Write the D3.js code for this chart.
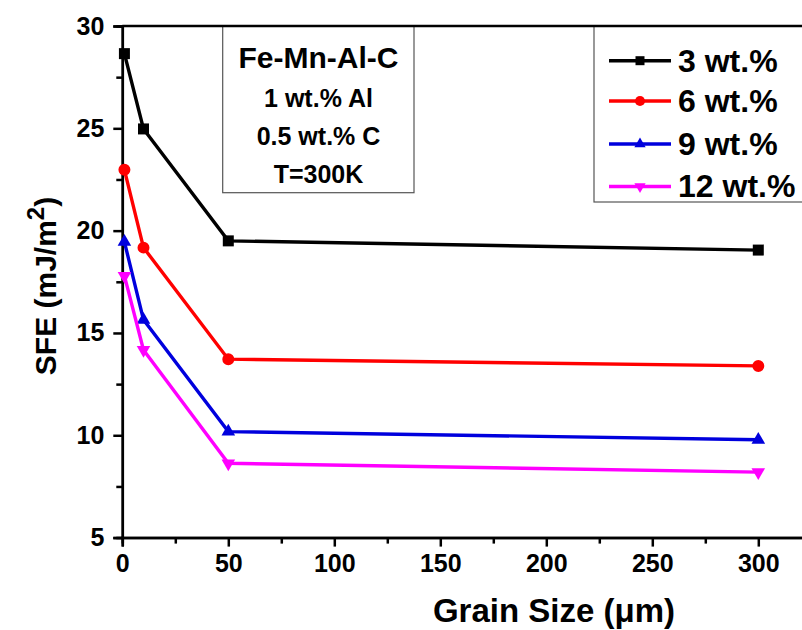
<!DOCTYPE html>
<html>
<head>
<meta charset="utf-8">
<script src="https://cdn.jsdelivr.net/npm/d3@7"></script>
<style>
  body { margin: 0; background: #fff; }
  svg { display: block; font-family: "Liberation Sans", Arial, sans-serif; font-weight: bold; }
</style>
</head>
<body>
<svg id="grafica" width="802" height="630"></svg>
<script>
// grain size (um)
const grainSize = [1, 10, 50, 300];

const serieNames = ["3 wt.%", "6 wt.%", "9 wt.%", "12 wt.%"];
const serieColors = ["#000000", "#ff0000", "#0000dd", "#ff00ff"];

// SFE values (mJ/m2), one array per Mn content
const sfe3 = [28.65, 24.97, 19.5, 19.05];
const sfe6 = [22.97, 19.17, 13.72, 13.39];
const sfe9 = [19.45, 15.64, 10.18, 9.78];
const sfe12 = [17.79, 14.17, 8.63, 8.2];

const xTicks = [0, 50, 100, 150, 200, 250, 300];
const yTicks = [5, 10, 15, 20, 25, 30];

const annotationLines = ["Fe-Mn-Al-C", "1 wt.% Al", "0.5 wt.% C", "T=300K"];

const series = [sfe3, sfe6, sfe9, sfe12].map((vals, i) => ({
  name: serieNames[i],
  color: serieColors[i],
  values: vals.map((v, j) => ({ x: grainSize[j], y: v }))
}));

const svg = d3.select("#grafica");

const mLeft = 122.3, mTop = 26, mBottom = 537.6;
const x = d3.scaleLinear().domain([0, 330]).range([mLeft, mLeft + 330 * 2.12]);
const y = d3.scaleLinear().domain([5, 30]).range([mBottom, mTop]);

// marker shapes
const shapes = [
  d3.symbol().type(d3.symbolSquare),
  d3.symbol().type(d3.symbolCircle),
  d3.symbol().type(d3.symbolTriangle),
  d3.symbol().type(d3.symbolTriangle)
];
const plotSizes = [121, 113, 80, 80];
const legendSizes = [81, 80, 55, 55];
const rot = [0, 0, 0, 180];

// boxes first (behind lines)
svg.append("rect")
  .attr("x", 222.7).attr("y", mTop)
  .attr("width", 414 - 222.7).attr("height", 192.7 - mTop)
  .attr("fill", "#fff").attr("stroke", "#555").attr("stroke-width", 1.2);

svg.append("rect")
  .attr("x", 594).attr("y", mTop)
  .attr("width", 260).attr("height", 202 - mTop)
  .attr("fill", "#fff").attr("stroke", "#555").attr("stroke-width", 1.2);

// axes
const xAxis = d3.axisBottom(x).tickValues(xTicks).tickSize(9).tickPadding(8);
const xMinor = d3.axisBottom(x).tickValues(d3.range(25, 330, 50)).tickSize(6).tickFormat("");
const yAxis = d3.axisLeft(y).tickValues(yTicks).tickSize(9).tickPadding(9);
const yMinor = d3.axisLeft(y).tickValues(d3.range(7.5, 30, 5)).tickSize(6).tickFormat("");

function styleAxis(g) {
  g.selectAll("path, line").attr("stroke", "#000").attr("stroke-width", 2.5);
  g.selectAll("text").attr("font-size", 25).attr("font-weight", "bold")
    .attr("font-family", "Liberation Sans, Arial, sans-serif").attr("fill", "#000");
}

svg.append("g").attr("transform", `translate(0,${mBottom})`).call(xMinor).call(styleAxis);
svg.append("g").attr("transform", `translate(0,${mBottom})`).call(xAxis).call(styleAxis);
svg.append("g").attr("transform", `translate(${mLeft},0)`).call(yMinor).call(styleAxis);
svg.append("g").attr("transform", `translate(${mLeft},0)`).call(yAxis).call(styleAxis);

// top frame line
svg.append("line")
  .attr("x1", mLeft).attr("x2", 802).attr("y1", mTop).attr("y2", mTop)
  .attr("stroke", "#000").attr("stroke-width", 2.5);

// lines and markers
const linea = d3.line().x(d => x(d.x)).y(d => y(d.y));

series.forEach((s, i) => {
  svg.append("path")
    .datum(s.values)
    .attr("d", linea)
    .attr("fill", "none")
    .attr("stroke", s.color)
    .attr("stroke-width", 3.4);

  svg.selectAll(null)
    .data(s.values)
    .enter().append("path")
    .attr("d", shapes[i].size(plotSizes[i]))
    .attr("transform", d => `translate(${x(d.x)},${y(d.y)}) rotate(${rot[i]})`)
    .attr("fill", s.color);
});

// legend
const legendRows = [60.7, 101, 144, 186.5];
series.forEach((s, i) => {
  const g = svg.append("g").attr("transform", `translate(0,${legendRows[i]})`);
  g.append("line").attr("x1", 609).attr("x2", 671).attr("y1", 0).attr("y2", 0)
    .attr("stroke", s.color).attr("stroke-width", 3.4);
  g.append("path").attr("d", shapes[i].size(legendSizes[i]))
    .attr("transform", `translate(640,0) rotate(${rot[i]})`)
    .attr("fill", s.color);
  g.append("text").attr("x", 678).attr("y", 10.8)
    .attr("font-size", 32).text(s.name);
});

// annotation text
const annY = [68, 107, 145, 183];
const annSize = [30, 25, 25, 25];
annotationLines.forEach((t, i) => {
  svg.append("text")
    .attr("x", 318.5).attr("y", annY[i])
    .attr("text-anchor", "middle")
    .attr("font-size", annSize[i])
    .text(t);
});

// axis titles
svg.append("text")
  .attr("x", 554).attr("y", 622)
  .attr("text-anchor", "middle")
  .attr("font-size", 33)
  .text("Grain Size (\u03BCm)");

const yt = svg.append("text")
  .attr("transform", "translate(56,286) rotate(-90)")
  .attr("text-anchor", "middle")
  .attr("font-size", 30);
yt.append("tspan").text("SFE (mJ/m");
yt.append("tspan").attr("font-size", 24).attr("dy", -12).text("2");
yt.append("tspan").attr("dy", 12).text(")");
</script>
</body>
</html>
